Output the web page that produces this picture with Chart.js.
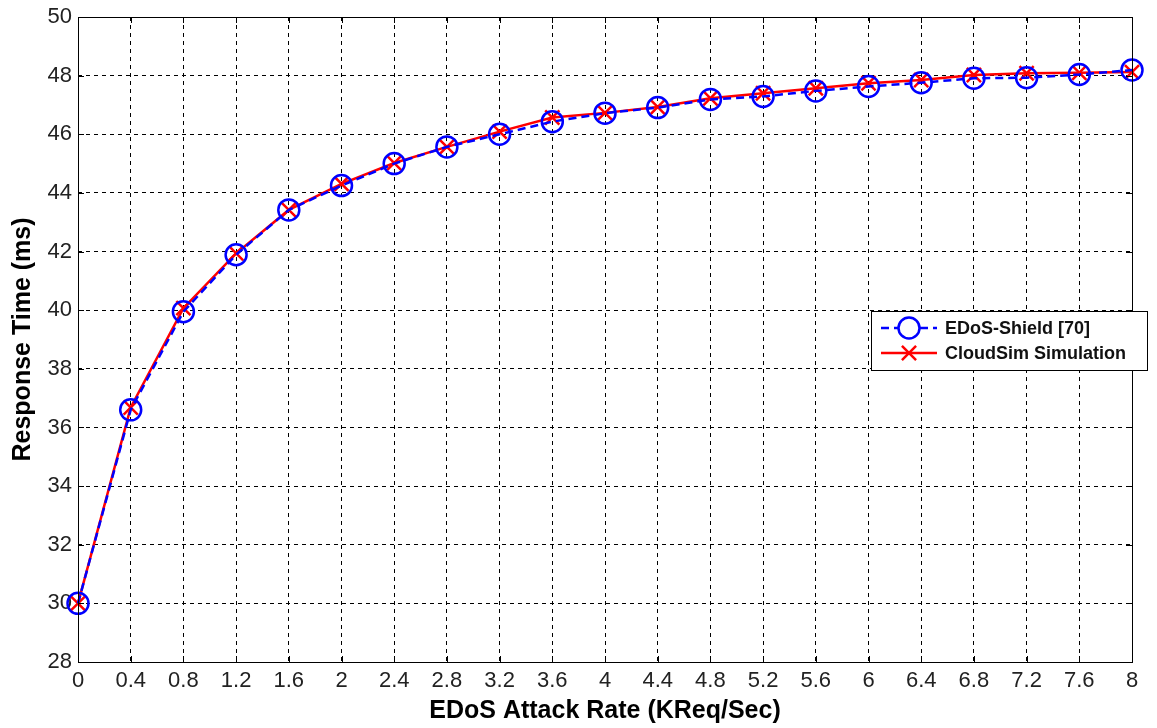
<!DOCTYPE html>
<html>
<head>
<meta charset="utf-8">
<script src="https://cdn.jsdelivr.net/npm/chart.js@4"></script>
<style>
  html, body { margin: 0; padding: 0; background: #fff; }
  #wrap { width: 1157px; height: 728px; position: relative; }
</style>
</head>
<body>
<div id="wrap"><canvas id="chart" width="1157" height="728"></canvas></div>
<script>
const rateLabels = ["0", "0.4", "0.8", "1.2", "1.6", "2", "2.4", "2.8", "3.2", "3.6", "4",
  "4.4", "4.8", "5.2", "5.6", "6", "6.4", "6.8", "7.2", "7.6", "8"];
const edosShield = [30, 36.6, 39.95, 41.89, 43.42, 44.25, 45.0, 45.57, 46.0, 46.43, 46.72,
  46.91, 47.19, 47.29, 47.48, 47.63, 47.76, 47.91, 47.93, 48.04, 48.19];
const cloudSim = [30, 36.68, 40.07, 41.94, 43.42, 44.31, 45.02, 45.57, 46.09, 46.57, 46.73,
  46.93, 47.23, 47.4, 47.57, 47.74, 47.85, 48.02, 48.08, 48.1, 48.12];
const yMin = 28;
const yMax = 50;
const yStep = 2;

const FONT = "'Liberation Sans', Arial, sans-serif";

// box around the axes plus inward tick marks, matlab style
const boxPlugin = {
  id: "box",
  afterDraw(chart) {
    const { ctx, chartArea: a, scales } = chart;
    ctx.save();
    ctx.strokeStyle = "#000";
    ctx.lineWidth = 1;
    ctx.setLineDash([]);
    ctx.beginPath();
    const t = 6;
    scales.x.ticks.forEach((_, i) => {
      const px = Math.round(scales.x.getPixelForTick(i)) + 0.5;
      ctx.moveTo(px, a.bottom); ctx.lineTo(px, a.bottom - t);
      ctx.moveTo(px, a.top); ctx.lineTo(px, a.top + t);
    });
    scales.y.ticks.forEach((_, i) => {
      const py = Math.round(scales.y.getPixelForTick(i)) + 0.5;
      ctx.moveTo(a.left, py); ctx.lineTo(a.left + t, py);
      ctx.moveTo(a.right, py); ctx.lineTo(a.right - t, py);
    });
    ctx.stroke();
    ctx.strokeRect(Math.round(a.left) + 0.5, Math.round(a.top) + 0.5,
      Math.round(a.right - a.left), Math.round(a.bottom - a.top));
    ctx.restore();
  },
};

// legend drawn by hand so the sample shows line + marker together
const legendPlugin = {
  id: "matLegend",
  afterDraw(chart) {
    const { ctx } = chart;
    const x = 871, y = 311, w = 276, h = 59;
    ctx.save();
    ctx.fillStyle = "#fff";
    ctx.fillRect(x, y, w, h);
    ctx.strokeStyle = "#000";
    ctx.lineWidth = 1;
    ctx.strokeRect(x + 0.5, y + 0.5, w, h);
    chart.data.datasets.forEach((ds, i) => {
      const cy = y + 17 + i * 25;
      ctx.save();
      ctx.strokeStyle = ds.borderColor;
      ctx.lineWidth = ds.borderWidth;
      ctx.setLineDash(ds.borderDash || []);
      ctx.beginPath();
      ctx.moveTo(x + 10, cy);
      ctx.lineTo(x + 66, cy);
      ctx.stroke();
      ctx.setLineDash([]);
      ctx.strokeStyle = ds.pointBorderColor;
      ctx.fillStyle = "#fff";
      ctx.lineWidth = ds.pointBorderWidth;
      Chart.helpers.drawPoint(ctx, {
        pointStyle: ds.pointStyle,
        radius: ds.pointRadius,
        borderWidth: ds.pointBorderWidth,
      }, x + 38, cy);
      ctx.restore();
      ctx.fillStyle = "#111";
      ctx.font = "bold 18px " + FONT;
      ctx.textBaseline = "middle";
      ctx.fillText(ds.label, x + 74, cy + 1);
    });
    ctx.restore();
  },
};

const ctx = document.getElementById("chart");
new Chart(ctx, {
  type: "line",
  data: {
    labels: rateLabels,
    datasets: [
      {
        label: "EDoS-Shield [70]",
        data: edosShield,
        borderColor: "#0000ff",
        backgroundColor: "rgba(0,0,0,0)",
        borderWidth: 2.5,
        borderDash: [8, 5],
        pointStyle: "circle",
        pointRadius: 10.5,
        pointBorderWidth: 2.5,
        pointBorderColor: "#0000ff",
        pointBackgroundColor: "rgba(0,0,0,0)",
        tension: 0,
      },
      {
        label: "CloudSim Simulation",
        data: cloudSim,
        borderColor: "#ff0000",
        backgroundColor: "rgba(0,0,0,0)",
        borderWidth: 2.5,
        pointStyle: "crossRot",
        pointRadius: 10,
        pointBorderWidth: 2.5,
        pointBorderColor: "#ff0000",
        tension: 0,
      },
    ],
  },
  options: {
    responsive: false,
    animation: false,
    layout: { padding: { left: 0, right: 25, top: 16, bottom: 0 } },
    plugins: {
      legend: { display: false },
      tooltip: { enabled: false },
    },
    scales: {
      x: {
        type: "category",
        offset: false,
        grid: { color: "#000", lineWidth: 1, drawTicks: false },
        border: { display: false, dash: [4, 4] },
        ticks: {
          color: "#222",
          font: { family: FONT, size: 22 },
          padding: 6,
          maxRotation: 0,
          autoSkip: false,
        },
        title: {
          display: true,
          text: "EDoS Attack Rate (KReq/Sec)",
          color: "#000",
          font: { family: FONT, size: 25, weight: "bold" },
          padding: { top: 0, bottom: 2 },
        },
        afterFit(scale) { scale.height = 66; },
      },
      y: {
        min: yMin,
        max: yMax,
        grid: { color: "#000", lineWidth: 1, drawTicks: false },
        border: { display: false, dash: [4, 4] },
        ticks: {
          stepSize: yStep,
          color: "#222",
          font: { family: FONT, size: 22, lineHeight: 1 },
          padding: 6,
        },
        title: {
          display: true,
          text: "Response Time (ms)",
          color: "#000",
          font: { family: FONT, size: 25, weight: "bold" },
          padding: { top: 8, bottom: 0 },
        },
        afterFit(scale) { scale.width = 78; },
      },
    },
  },
  plugins: [boxPlugin, legendPlugin],
});
</script>
</body>
</html>
